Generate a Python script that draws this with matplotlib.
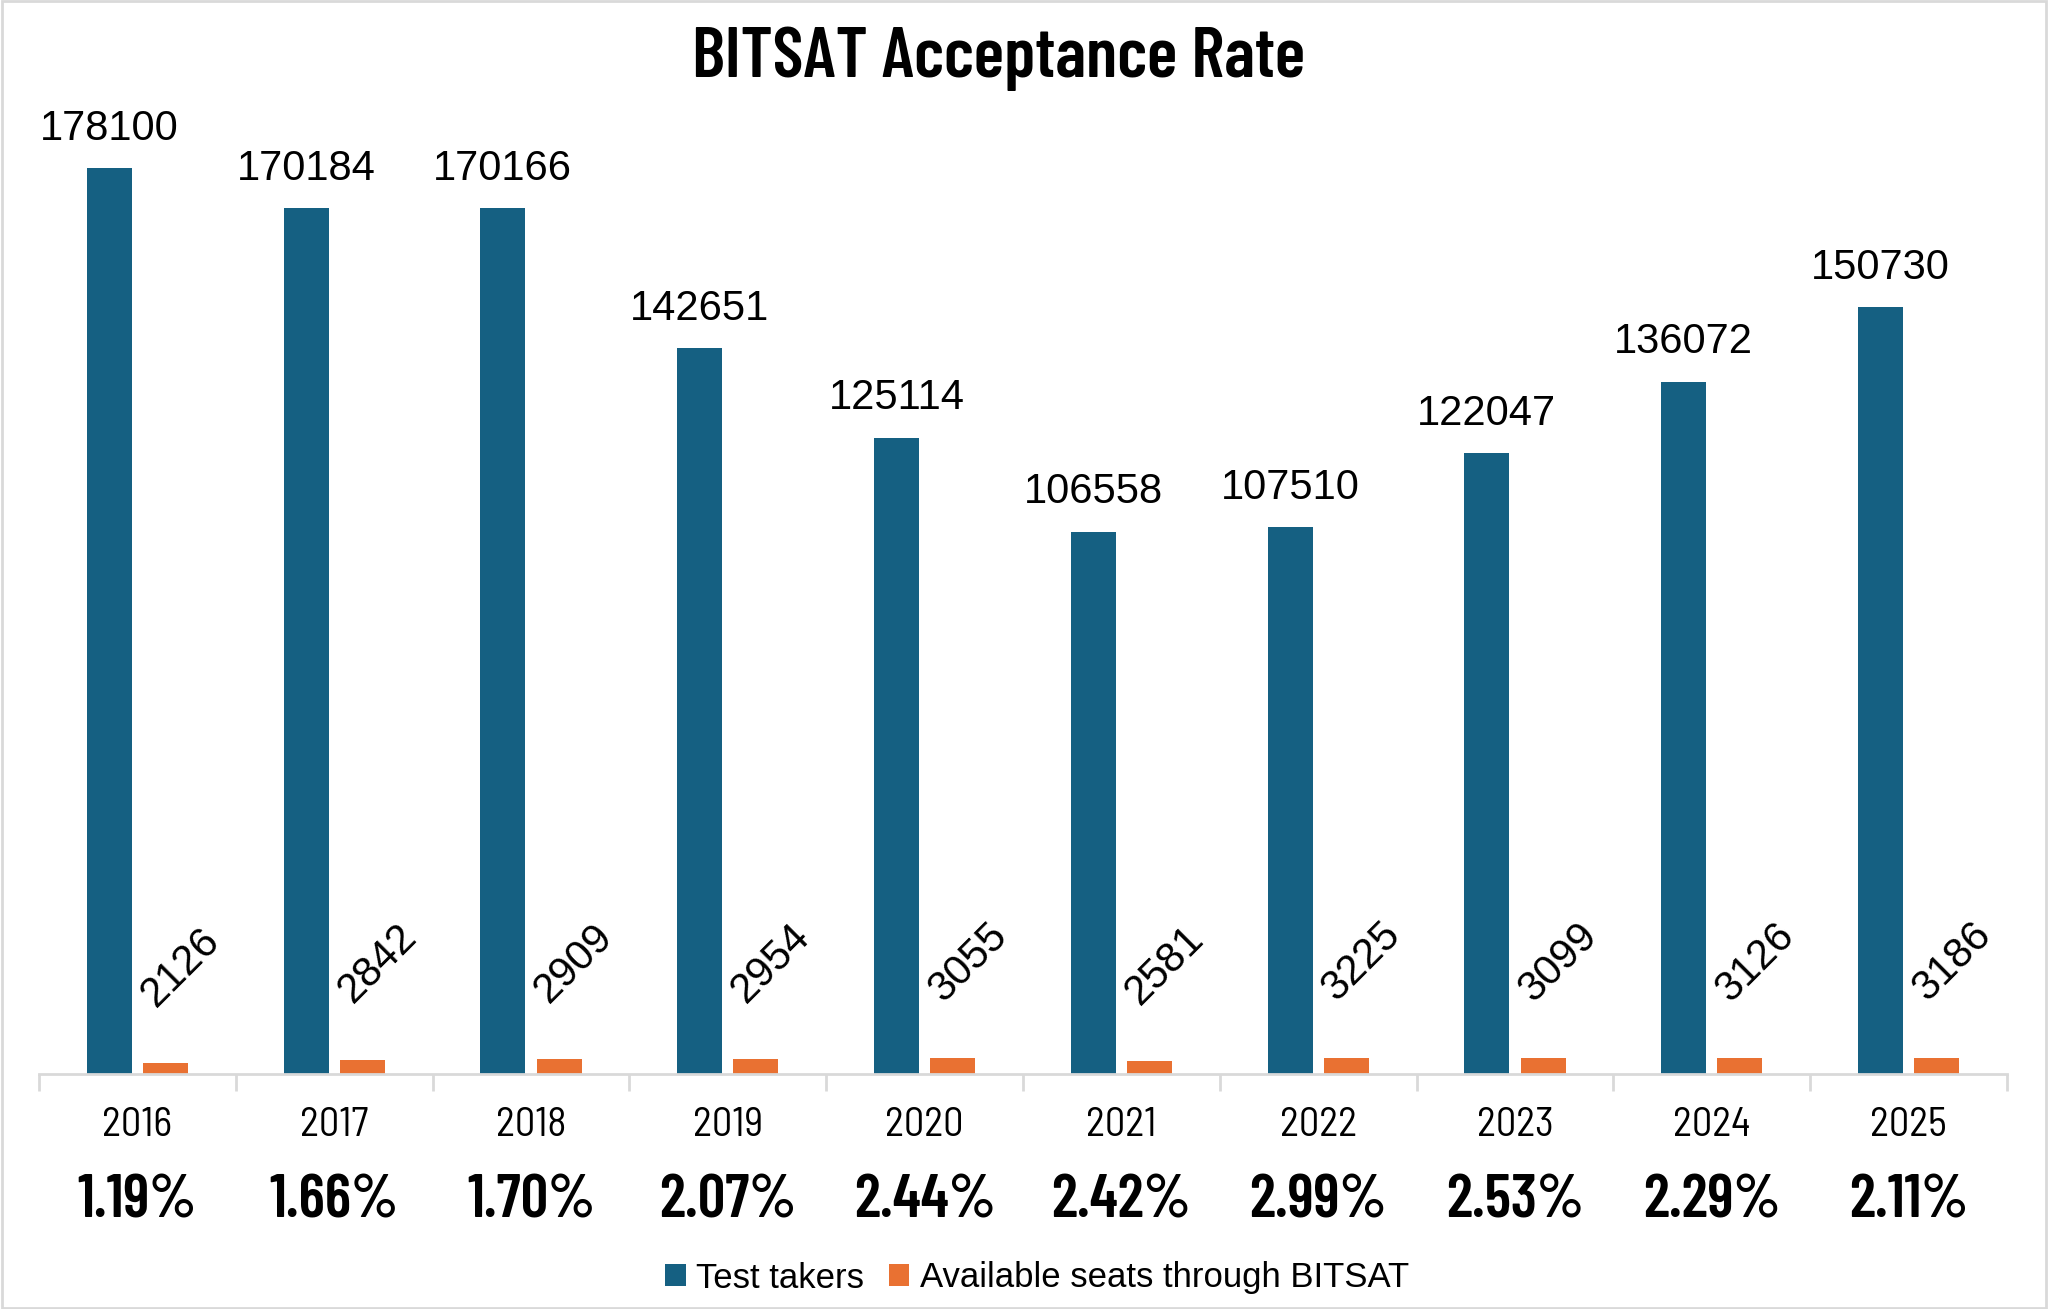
import matplotlib
matplotlib.use('Agg')
import matplotlib.pyplot as plt
from matplotlib import font_manager
from matplotlib.patches import Rectangle
import numpy as np

# data
years = ['2016', '2017', '2018', '2019', '2020', '2021', '2022', '2023', '2024', '2025']
test_takers = [178100, 170184, 170166, 142651, 125114, 106558, 107510, 122047, 136072, 150730]
seats = [2126, 2842, 2909, 2954, 3055, 2581, 3225, 3099, 3126, 3186]
rates = ['1.19%', '1.66%', '1.70%', '2.07%', '2.44%', '2.42%', '2.99%', '2.53%', '2.29%', '2.11%']

BLUE = '#156082'
ORANGE = '#E97132'
GRID = '#d9d9d9'

names = {f.name for f in font_manager.fontManager.ttflist}


def pick(*cands):
    for c in cands:
        if c in names:
            return c
    return 'Liberation Sans'


cond = pick('Barlow Condensed', 'Roboto Condensed', 'Open Sans Condensed', 'IBM Plex Sans Condensed')
semi = pick('Barlow Semi Condensed', 'Barlow Condensed', 'Roboto Condensed', 'IBM Plex Sans Condensed')
plain = 'Liberation Sans'

fig = plt.figure(figsize=(20.48, 13.09), dpi=100)
ax = fig.add_axes([39/2048, 1 - 1074/1309, (2007-39)/2048, 954/1309])

x = np.arange(len(years))
w = 0.229
off = 0.143
b1 = ax.bar(x - off, test_takers, w, color=BLUE, label='Test takers')
b2 = ax.bar(x + off, seats, w, color=ORANGE, label='Available seats through BITSAT')

ax.set_xlim(-0.5, len(years) - 0.5)
ax.set_ylim(0, 178100 * 954 / 906)

for s in ['top', 'right', 'left']:
    ax.spines[s].set_visible(False)
ax.spines['bottom'].set_color(GRID)
ax.spines['bottom'].set_linewidth(2)
ax.set_yticks([])
ax.set_xticks(x)
ax.set_xticklabels([])
ax.tick_params(axis='x', which='major', length=0)
ax.set_xticks(np.arange(-0.5, len(years) + 0.5, 1), minor=True)
ax.tick_params(axis='x', which='minor', length=12, width=2, color=GRID)

for xi, v in zip(x, test_takers):
    ax.annotate(str(v), (xi - off, v), xytext=(0, 14), textcoords='offset points',
                ha='center', va='bottom', fontsize=30, family=plain)

for xi, v in zip(x, seats):
    ax.annotate(str(v), (xi + off, v), xytext=(11, 69), textcoords='offset points',
                ha='center', va='center', rotation=45, fontsize=30, family=plain)

tr = ax.get_xaxis_transform()
for xi, yr, r in zip(x, years, rates):
    ax.text(xi, -0.054, yr, transform=tr, ha='center', va='center',
            fontsize=29, family=semi)
    ax.text(xi, -0.134, r, transform=tr, ha='center', va='center',
            fontsize=44, family=cond, fontweight='semibold')

fig.text(999/2048, 1 - 59/1309, 'BITSAT Acceptance Rate', ha='center', va='center',
         fontsize=51, fontweight='semibold', family=cond)

fig.legend(handles=[b1, b2], loc='center', bbox_to_anchor=(1037/2048, 1 - 1278/1309),
           ncol=2, frameon=False, prop={'family': plain, 'size': 25},
           handlelength=0.6, handleheight=0.6, handletextpad=0.3, columnspacing=0.7)

fig.patches.append(Rectangle((0.001, 0.001), 0.998, 0.998, transform=fig.transFigure,
                             fill=False, edgecolor=GRID, linewidth=2))

fig.savefig('out.png', dpi=100)
